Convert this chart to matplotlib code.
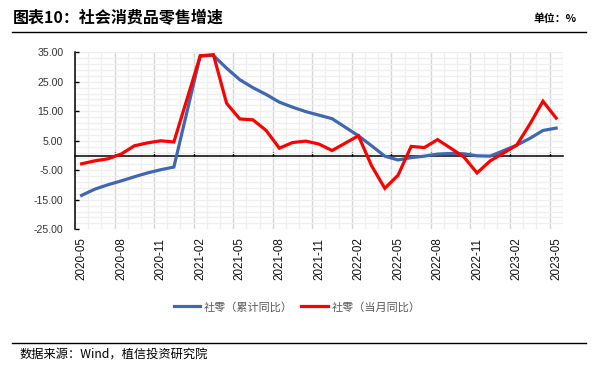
import matplotlib
matplotlib.use('Agg')
import matplotlib.pyplot as plt
from matplotlib.lines import Line2D
import numpy as np
import pandas as pd

# 2020-05 .. 2023-05, no January figures (Jan-Feb combined)
months = pd.period_range('2020-05', '2023-05', freq='M').strftime('%Y-%m').tolist()

retail_cum = [-13.5, -11.4, -9.9, -8.6, -7.2, -5.9, -4.8, -3.9, None,
              33.8, 33.9, 29.6, 25.7, 23.0, 20.7, 18.1, 16.4, 14.9, 13.7, 12.5, None,
              6.7, 3.3, -0.2, -1.5, -0.7, -0.2, 0.5, 0.7, 0.6, -0.1, -0.2, None,
              3.5, 5.8, 8.5, 9.3]
retail_month = [-2.8, -1.8, -1.1, 0.5, 3.3, 4.3, 5.0, 4.6, None,
                33.8, 34.2, 17.7, 12.4, 12.1, 8.5, 2.5, 4.4, 4.9, 3.9, 1.7, None,
                6.7, -3.5, -11.1, -6.7, 3.1, 2.7, 5.4, 2.5, -0.5, -5.9, -1.8, None,
                3.5, 10.6, 18.4, 12.7]

series_names = ['社零（累计同比）', '社零（当月同比）']
series_colors = ['#4068B0', '#FF0000']

cjk = ['Noto Sans CJK SC', 'DejaVu Sans']
plt.rcParams['font.family'] = ['Liberation Sans', 'Noto Sans CJK SC', 'DejaVu Sans']

fig = plt.figure(figsize=(6.04, 3.77), dpi=100)
ax = fig.add_axes([0.1242, 0.3918, 0.8075, 0.4695])

x = np.arange(len(months))
for vals, name, col in zip([retail_cum, retail_month], series_names, series_colors):
    v = np.array([np.nan if a is None else a for a in vals], dtype=float)
    ok = ~np.isnan(v)
    ax.plot(x[ok], v[ok], color=col, lw=2.3, label=name, solid_joinstyle='miter', zorder=3)

ax.set_xlim(-0.5, len(months) - 0.5)
ax.set_ylim(-25, 35)

# grid
ax.set_xticks(np.arange(2.5, len(months) - 0.5, 3))
ax.set_xticks(np.arange(-0.5, len(months), 1), minor=True)
ax.set_yticks(np.arange(-25, 36, 10))
ax.set_yticks(np.arange(-25, 36, 2), minor=True)
ax.grid(which='minor', color='#EFEFEF', lw=0.9, zorder=0)
ax.grid(which='major', axis='y', color='#EFEFEF', lw=0.9, zorder=0)
ax.grid(which='major', axis='x', color='#D6D6D6', lw=1.0, zorder=0)
ax.set_axisbelow(True)

# zero axis with ticks between categories
ax.spines['bottom'].set_position(('data', 0))
ax.spines['bottom'].set_linewidth(1.1)
ax.spines['top'].set_visible(False)
ax.spines['right'].set_visible(False)
ax.spines['left'].set_linewidth(1.1)
ax.tick_params(axis='x', which='major', direction='in', length=3.2, width=1, labelbottom=False)
ax.tick_params(axis='x', which='minor', length=0)
ax.tick_params(axis='y', which='major', direction='in', length=3.2, width=1, pad=8.5,
               labelsize=7.6, labelcolor='#333333')
ax.tick_params(axis='y', which='minor', length=0)
ax.set_yticklabels(['%.2f' % t for t in ax.get_yticks()])

# category labels at the bottom
sec = ax.secondary_xaxis('bottom')
sec.set_xticks(x[::3], labels=months[::3], rotation=90)
sec.tick_params(length=0, pad=6, labelsize=8.4, labelcolor='#111111')
sec.spines['bottom'].set_visible(False)

leg = fig.legend(loc='center', bbox_to_anchor=(297 / 604, 1 - 307 / 377), ncol=2, frameon=False,
                 handlelength=2.4, handletextpad=0.3, columnspacing=0.8,
                 prop={'family': cjk, 'size': 8})
for t in leg.get_texts():
    t.set_color('#595959')

# header and footer
fig.text(13 / 604, 1 - 18.5 / 377, '图表10：社会消费品零售增速', family=cjk, weight='bold',
         size=11.5, va='center', ha='left')
fig.text(577 / 604, 1 - 18.5 / 377, '单位：%', family=cjk, weight='bold',
         size=7.8, va='center', ha='right')
fig.add_artist(Line2D([11.5 / 604, 586 / 604], [1 - 31.5 / 377] * 2, color='black', lw=1))
fig.add_artist(Line2D([11.5 / 604, 586 / 604], [1 - 343 / 377] * 2, color='black', lw=1))
fig.text(20 / 604, 1 - 355 / 377, '数据来源：Wind，植信投资研究院', family=cjk,
         size=8.8, va='center', ha='left')

fig.savefig('out.png', dpi=100)
